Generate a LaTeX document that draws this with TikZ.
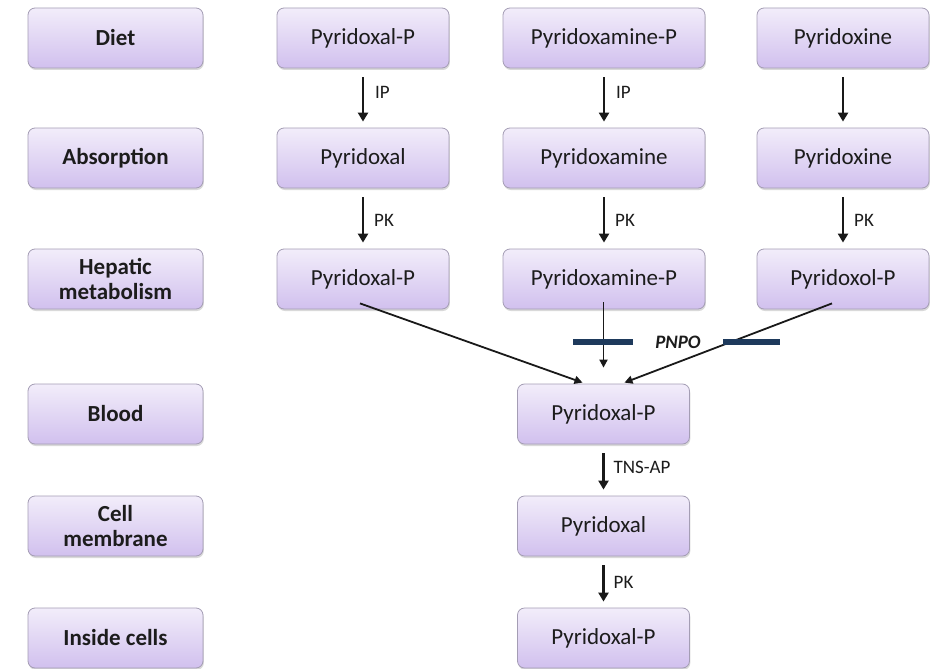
\documentclass[tikz,border=0pt]{standalone}
\usepackage{fontspec}
\setmainfont{Carlito}
\usetikzlibrary{arrows.meta,shadows}
\definecolor{boxtop}{HTML}{F2EDFA}
\definecolor{boxbot}{HTML}{D1C0EE}
\definecolor{boxline}{HTML}{A49DB4}
\definecolor{txt}{HTML}{1C1C1C}
\definecolor{barblue}{HTML}{1E3A5C}
\tikzset{
  box/.style={rectangle, rounded corners=7pt, draw=boxline, line width=0.8pt,
    top color=boxtop, bottom color=boxbot, minimum height=60pt, inner sep=2pt,
    align=center, text=txt, font=\fontsize{23}{25}\selectfont,
    drop shadow={shadow xshift=0.8pt, shadow yshift=-2pt, opacity=0.25, fill=black!60}},
  stagebox/.style={box, minimum width=175pt, font=\fontsize{23}{25}\selectfont\bfseries},
  narrowbox/.style={box, minimum width=172pt},
  widebox/.style={box, minimum width=202pt},
  flow/.style={line width=2.4pt, draw=black!90, -{Triangle[width=10pt,length=9pt]},
    shorten <=9pt, shorten >=6pt},
  merge/.style={line width=1.8pt, draw=black!90, -{Triangle[width=8pt,length=8pt]}},
  enzyme/.style={font=\fontsize{19}{21}\selectfont, text=txt, anchor=west, inner sep=0pt},
  inhibit/.style={line width=5.5pt, draw=barblue}
}
\begin{document}
\begin{tikzpicture}[x=1pt,y=-1pt]
\useasboundingbox (0,0) rectangle (932,669);
% stage labels
\node[stagebox] (sDiet) at (115.5,38) {Diet};
\node[stagebox] (sAbs)  at (115.5,158) {Absorption};
\node[stagebox] (sHep)  at (115.5,279) {Hepatic\\metabolism};
\node[stagebox] (sBlood) at (115.5,414) {Blood};
\node[stagebox] (sCell) at (115.5,526) {Cell\\membrane};
\node[stagebox] (sIn)   at (115.5,638) {Inside cells};
% vitamer columns
\node[narrowbox] (a1) at (363,38) {Pyridoxal-P};
\node[widebox]   (b1) at (604,38) {Pyridoxamine-P};
\node[narrowbox] (c1) at (843,38) {Pyridoxine};
\node[narrowbox] (a2) at (363,158) {Pyridoxal};
\node[widebox]   (b2) at (604,158) {Pyridoxamine};
\node[narrowbox] (c2) at (843,158) {Pyridoxine};
\node[narrowbox] (a3) at (363,279) {Pyridoxal-P};
\node[widebox]   (b3) at (604,279) {Pyridoxamine-P};
\node[narrowbox] (c3) at (843,279) {Pyridoxol-P};
% common pathway
\node[narrowbox] (d4) at (603.5,414) {Pyridoxal-P};
\node[narrowbox] (d5) at (603.5,526) {Pyridoxal};
\node[narrowbox] (d6) at (603.5,638) {Pyridoxal-P};
% diet -> absorption
\draw[flow] (a1) -- node[enzyme, xshift=11pt, yshift=6pt] {IP} (a2);
\draw[flow] (b1) -- node[enzyme, xshift=11pt, yshift=6pt] {IP} (b2);
\draw[flow] (c1) -- (c2);
% absorption -> hepatic metabolism
\draw[flow] (a2) -- node[enzyme, xshift=10pt, yshift=-1.5pt] {PK} (a3);
\draw[flow] (b2) -- node[enzyme, xshift=10pt, yshift=-1.5pt] {PK} (b3);
\draw[flow] (c2) -- node[enzyme, xshift=10pt, yshift=-1.5pt] {PK} (c3);
% hepatic metabolism -> blood
\coordinate (mEnd) at ([yshift=16pt]d4.north);
\draw[merge] ([xshift=-3pt,yshift=6pt]a3.south) -- ([xshift=-21pt,yshift=1pt]d4.north);
\draw[merge] ([xshift=-11pt,yshift=6pt]c3.south) -- ([xshift=21pt,yshift=1pt]d4.north);
\draw[merge] ([xshift=-0.5pt,yshift=7pt]b3.south) -- (mEnd);
% PNPO block
\node[font=\fontsize{19}{21}\selectfont\bfseries\itshape, text=txt] (pnpo) at (678,342) {PNPO};
\coordinate (barL1) at (573,342);
\coordinate (barL2) at (633,342);
\coordinate (barR1) at (723,342);
\coordinate (barR2) at (780,342);
\draw[inhibit] (barL1) -- (barL2);
\draw[inhibit] (barR1) -- (barR2);
% blood -> cells
\draw[flow] (d4) -- node[enzyme, xshift=9pt, yshift=3pt] {TNS-AP} (d5);
\draw[flow] (d5) -- node[enzyme, xshift=9pt, yshift=0pt] {PK} (d6);
\end{tikzpicture}
\end{document}
